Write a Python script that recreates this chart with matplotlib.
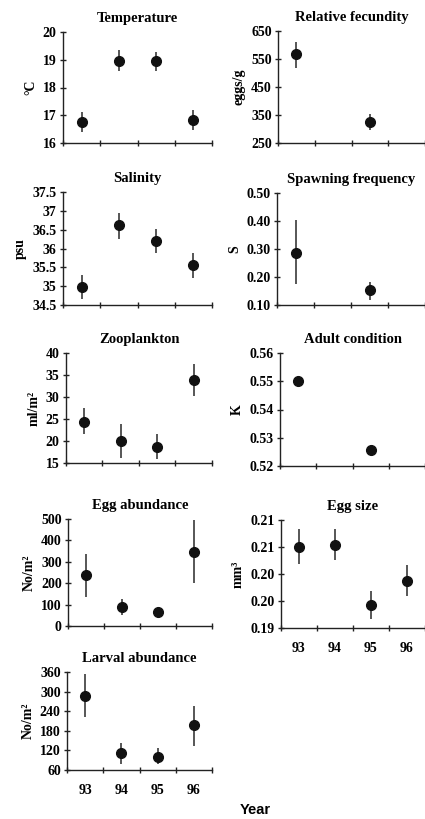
import matplotlib
matplotlib.use("Agg")
import matplotlib.pyplot as plt
import numpy as np

years = ["93", "94", "95", "96"]
xpos = [1, 2, 3, 4]

# Left column panels
temp_val = [16.76, 18.94, 18.94, 16.84]
temp_lo = [16.40, 18.58, 18.58, 16.46]
temp_hi = [17.10, 19.34, 19.28, 17.20]
temp_ticks = [16, 17, 18, 19, 20]
temp_labels = ["16", "17", "18", "19", "20"]

sal_val = [34.98, 36.63, 36.19, 35.57]
sal_lo = [34.67, 36.26, 35.88, 35.23]
sal_hi = [35.29, 36.94, 36.52, 35.88]
sal_ticks = [34.5, 35, 35.5, 36, 36.5, 37, 37.5]
sal_labels = ["34.5", "35", "35.5", "36", "36.5", "37", "37.5"]

zoo_val = [24.3, 20.1, 18.7, 33.9]
zoo_lo = [21.7, 16.1, 15.9, 30.2]
zoo_hi = [27.4, 23.9, 21.7, 37.4]
zoo_ticks = [15, 20, 25, 30, 35, 40]
zoo_labels = ["15", "20", "25", "30", "35", "40"]

egg_val = [238, 90, 67, 347]
egg_lo = [134, 50, 51, 202]
egg_hi = [336, 128, 84, 495]
egg_ticks = [0, 100, 200, 300, 400, 500]
egg_labels = ["0", "100", "200", "300", "400", "500"]

lar_val = [288, 111, 101, 198]
lar_lo = [221, 78, 78, 134]
lar_hi = [355, 144, 127, 257]
lar_ticks = [60, 120, 180, 240, 300, 360]
lar_labels = ["60", "120", "180", "240", "300", "360"]

# Right column panels (only 93 and 95 for the first three)
fec_x = [1, 3]
fec_val = [567, 325]
fec_lo = [519, 297]
fec_hi = [610, 353]
fec_ticks = [250, 350, 450, 550, 650]
fec_labels = ["250", "350", "450", "550", "650"]

spf_x = [1, 3]
spf_val = [0.2875, 0.153]
spf_lo = [0.174, 0.118]
spf_hi = [0.405, 0.181]
spf_ticks = [0.10, 0.20, 0.30, 0.40, 0.50]
spf_labels = ["0.10", "0.20", "0.30", "0.40", "0.50"]

adc_x = [1, 3]
adc_val = [0.5501, 0.5256]
adc_ticks = [0.52, 0.53, 0.54, 0.55, 0.56]
adc_labels = ["0.52", "0.53", "0.54", "0.55", "0.56"]

esz_val = [0.20505, 0.20542, 0.19421, 0.19867]
esz_lo = [0.20176, 0.20257, 0.19173, 0.19588]
esz_hi = [0.20827, 0.20827, 0.19681, 0.20164]
esz_ticks = [0.19, 0.195, 0.20, 0.205, 0.21]
esz_labels = ["0.19", "0.20", "0.20", "0.21", "0.21"]

W, H = 425, 819
fig = plt.figure(figsize=(W / 100, H / 100), dpi=100)

SERIF = ["Liberation Serif", "DejaVu Serif"]
plt.rcParams["font.family"] = SERIF
FS = 10


def make_axes(left, right, top, bottom):
    return fig.add_axes([left / W, 1 - bottom / H, (right - left) / W, (bottom - top) / H])


def panel(ax, x, val, lo, hi, ticks, labels, ylim, title, ylabel, xlabels=False):
    val = np.array(val)
    if lo is not None:
        yerr = [val - np.array(lo), np.array(hi) - val]
        ax.errorbar(x, val, yerr=yerr, fmt="none", ecolor="#3a3a3a", elinewidth=1.2, capsize=0, zorder=2)
    ax.plot(x, val, "o", color="#111111", markersize=7, zorder=3)
    ax.set_xlim(0.5, 4.5)
    ax.set_ylim(*ylim)
    ax.set_yticks(ticks)
    ax.set_yticklabels(labels, fontsize=FS, fontweight="bold", family=SERIF)
    ax.set_xticks([0.5, 1.5, 2.5, 3.5, 4.5])
    ax.set_xticklabels([])
    if xlabels:
        ax.set_xticks(xpos, minor=True)
        ax.set_xticklabels(years, minor=True, fontsize=FS, fontweight="bold", family=SERIF)
        ax.tick_params(axis="x", which="minor", length=0, pad=10)
    for s in ["top", "right"]:
        ax.spines[s].set_visible(False)
    for s in ["left", "bottom"]:
        ax.spines[s].set_color("#222222")
        ax.spines[s].set_linewidth(1.0)
    ax.tick_params(axis="both", which="major", direction="inout", length=5, width=1.0,
                   color="#222222", pad=2)
    ax.set_title(title, fontsize=FS + 0.5, fontweight="bold", family=SERIF, pad=7)
    ax.set_ylabel(ylabel, fontsize=FS, fontweight="bold", family=SERIF, labelpad=4)
    ax.patch.set_alpha(0)


ax = make_axes(63, 212, 32, 143)
panel(ax, xpos, temp_val, temp_lo, temp_hi, temp_ticks, temp_labels, (16, 20), "Temperature", "°C")

ax = make_axes(63, 212, 192, 305)
panel(ax, xpos, sal_val, sal_lo, sal_hi, sal_ticks, sal_labels, (34.5, 37.5), "Salinity", "psu")

ax = make_axes(66, 212, 353, 463)
panel(ax, xpos, zoo_val, zoo_lo, zoo_hi, zoo_ticks, zoo_labels, (15, 40), "Zooplankton", "ml/m²")

ax = make_axes(68, 212, 519, 626)
panel(ax, xpos, egg_val, egg_lo, egg_hi, egg_ticks, egg_labels, (0, 500), "Egg abundance", "No/m²")

ax = make_axes(67, 212, 672, 770)
panel(ax, xpos, lar_val, lar_lo, lar_hi, lar_ticks, lar_labels, (60, 360), "Larval abundance", "No/m²", xlabels=True)

ax = make_axes(278, 425, 31, 143)
panel(ax, fec_x, fec_val, fec_lo, fec_hi, fec_ticks, fec_labels, (250, 650), "Relative fecundity", "eggs/g")

ax = make_axes(277, 425, 193, 305)
panel(ax, spf_x, spf_val, spf_lo, spf_hi, spf_ticks, spf_labels, (0.10, 0.50), "Spawning frequency", "S")

ax = make_axes(280, 425, 353, 466)
panel(ax, adc_x, adc_val, None, None, adc_ticks, adc_labels, (0.52, 0.56), "Adult condition", "K")

ax = make_axes(281, 425, 520, 628)
panel(ax, xpos, esz_val, esz_lo, esz_hi, esz_ticks, esz_labels, (0.19, 0.21), "Egg size", "mm³", xlabels=True)

fig.text(255 / W, 1 - 810 / H, "Year", ha="center", va="center", fontsize=10.5,
         fontweight="bold", family=["Liberation Sans", "DejaVu Sans"])

fig.savefig("out.png", dpi=100)
